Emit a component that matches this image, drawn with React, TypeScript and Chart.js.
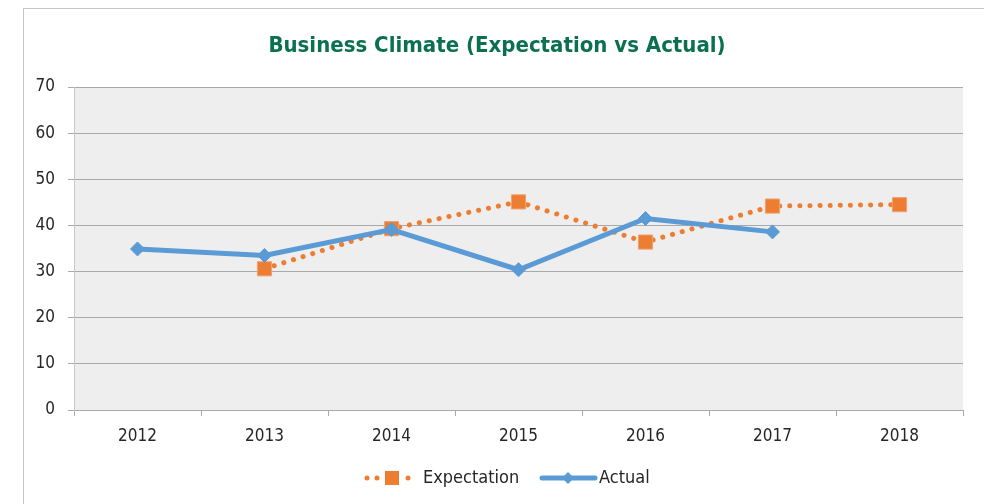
import React, { useEffect, useRef } from "react";
import { Chart, registerables } from "chart.js";

Chart.register(...registerables);

const categories = ["2012", "2013", "2014", "2015", "2016", "2017", "2018"];
const expectation = [null, 30.6, 39.3, 45.1, 36.4, 44.2, 44.5];
const actual = [34.9, 33.5, 39.1, 30.4, 41.5, 38.6, null];
const yTicks = { min: 0, max: 70, step: 10 };
const titleText = "Business Climate (Expectation vs Actual)";
const seriesNames = ["Expectation", "Actual"];

const ORANGE = "#ED7D31";
const BLUE = "#5B9BD5";
const GRID = "#a9a9a9";
const FONT = "'DejaVu Sans Condensed', 'Open Sans', sans-serif";

const decorPlugin = {
  id: "decor",
  beforeDraw(chart: any) {
    const { ctx, chartArea } = chart;
    ctx.save();
    ctx.fillStyle = "#eeeeee";
    ctx.fillRect(chartArea.left, chartArea.top, chartArea.right - chartArea.left, chartArea.bottom - chartArea.top);
    ctx.restore();
  },
  afterDraw(chart: any) {
    const { ctx } = chart;
    ctx.save();
    // title
    ctx.fillStyle = "#0a7050";
    ctx.font = "bold 22px " + FONT;
    ctx.textAlign = "center";
    ctx.textBaseline = "middle";
    ctx.fillText(titleText, 473, 37);

    // legend
    const ly = 469;
    const ds0 = chart.data.datasets[0];
    const ds1 = chart.data.datasets[1];
    ctx.fillStyle = ds0.borderColor;
    [343, 353, 384].forEach((x) => {
      ctx.beginPath();
      ctx.arc(x, ly, 2.5, 0, Math.PI * 2);
      ctx.fill();
    });
    ctx.fillRect(361, ly - 7, 14, 14);

    ctx.strokeStyle = ds1.borderColor;
    ctx.lineWidth = 5;
    ctx.lineCap = "round";
    ctx.beginPath();
    ctx.moveTo(518, ly);
    ctx.lineTo(571, ly);
    ctx.stroke();
    ctx.fillStyle = ds1.borderColor;
    ctx.beginPath();
    ctx.moveTo(544 - 6, ly);
    ctx.lineTo(544, ly - 6);
    ctx.lineTo(544 + 6, ly);
    ctx.lineTo(544, ly + 6);
    ctx.closePath();
    ctx.fill();

    ctx.fillStyle = "#262626";
    ctx.font = "18px " + FONT;
    ctx.textAlign = "left";
    ctx.textBaseline = "middle";
    ctx.fillText(ds0.label, 399, ly);
    ctx.fillText(ds1.label, 575, ly);
    ctx.restore();
  },
};

export default function App() {
  const ref = useRef<HTMLCanvasElement | null>(null);
  useEffect(() => {
    if (!ref.current) return;
    const chart = new Chart(ref.current, {
      type: "line",
      data: {
        labels: categories,
        datasets: [
          {
            label: seriesNames[0],
            data: expectation,
            borderColor: ORANGE,
            backgroundColor: ORANGE,
            borderWidth: 5,
            borderDash: [0.1, 10],
            borderCapStyle: "round",
            pointStyle: "rect",
            pointRadius: 10,
            pointBorderWidth: 1,
            pointBorderColor: "#f0a070",
            pointBackgroundColor: ORANGE,
            tension: 0,
            spanGaps: false,
            order: 1,
          },
          {
            label: seriesNames[1],
            data: actual,
            borderColor: BLUE,
            backgroundColor: BLUE,
            borderWidth: 5,
            pointStyle: "rectRot",
            pointRadius: 7,
            pointBorderWidth: 1,
            pointBorderColor: BLUE,
            pointBackgroundColor: BLUE,
            tension: 0,
            order: 0,
          },
        ] as any,
      },
      options: {
        animation: false,
        responsive: false,
        maintainAspectRatio: false,
        layout: { padding: { left: 0, right: 22, top: 78, bottom: 55 } },
        plugins: {
          legend: { display: false },
          title: { display: false },
          tooltip: { enabled: false },
        },
        scales: {
          x: {
            type: "category",
            offset: true,
            afterFit: (s: any) => {
              s.height = 40;
            },
            grid: {
              offset: true,
              drawOnChartArea: false,
              drawTicks: true,
              tickLength: 6,
              color: GRID,
            },
            border: { display: true, color: GRID, width: 1 },
            ticks: {
              color: "#262626",
              font: { family: FONT, size: 17 },
              padding: 10,
              maxRotation: 0,
            },
          },
          y: {
            min: yTicks.min,
            max: yTicks.max,
            afterFit: (s: any) => {
              s.width = 50;
            },
            grid: {
              color: GRID,
              tickLength: 6,
              drawTicks: true,
            },
            border: { display: true, color: "#c8c8c8", width: 1 },
            ticks: {
              stepSize: yTicks.step,
              color: "#262626",
              font: { family: FONT, size: 17 },
              padding: 13,
            },
          },
        },
      } as any,
      plugins: [decorPlugin],
    });
    return () => chart.destroy();
  }, []);

  return (
    <div
      style={{
        marginLeft: 15,
        width: 961,
        height: 520,
        border: "1px solid #c4c4c4",
        background: "#ffffff",
      }}
    >
      <canvas ref={ref} width={961} height={496} style={{ display: "block", width: 961, height: 496 }} />
    </div>
  );
}
